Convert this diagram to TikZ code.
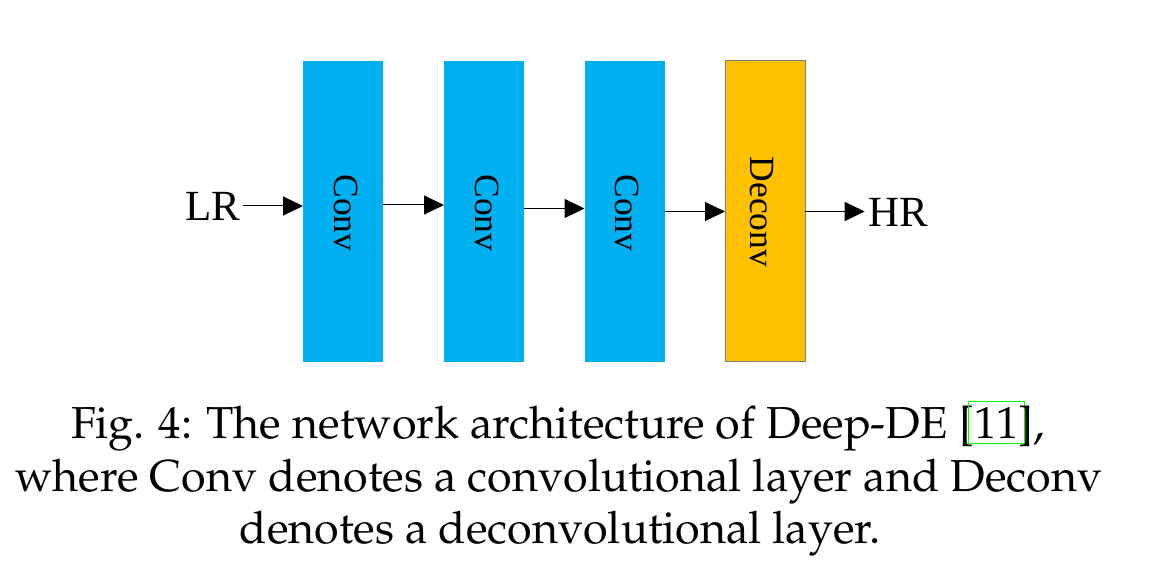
\documentclass[tikz,border=0pt]{standalone}
\usepackage[T1,TU]{fontenc}
\usepackage{fontspec}
\setmainfont{Liberation Serif}
\usetikzlibrary{arrows.meta}
\definecolor{convblue}{HTML}{00B0F0}
\definecolor{deconvorange}{HTML}{FFC000}
\definecolor{linkgreen}{HTML}{00FF00}
\definecolor{boxedge}{HTML}{7F7F7F}
\newcommand\reflinkbox[1]{\mbox{\makebox[0pt][l]{\hspace{-3pt}\textcolor{linkgreen}{\setlength\fboxrule{0.5pt}\setlength\fboxsep{2.5pt}\fbox{\phantom{#1}}}}#1}}
\begin{document}
\begin{tikzpicture}[x=0.5pt,y=-0.5pt,
  layer/.style={minimum width=40pt,minimum height=150.5pt,inner sep=0pt,outer sep=0pt},
  convbox/.style={layer,fill=convblue},
  deconvbox/.style={layer,fill=deconvorange,draw=boxedge,line width=0.5pt},
  lbl/.style={rotate=-90,font=\fontsize{17.7}{20}\selectfont,inner sep=0pt},
  io/.style={font=\fontsize{21.5}{24}\selectfont,inner sep=1.5pt},
  arr/.style={-{Triangle[length=10pt,width=9.5pt]},line width=0.5pt},
  captext/.style={anchor=base,inner sep=0pt,font=\usefont{T1}{ppl}{m}{n}\fontsize{22.4}{26.5}\selectfont}]
\useasboundingbox (0,0) rectangle (1150,582);
% layers
\node[convbox] (c1) at (343,211.5) {};
\node[convbox] (c2) at (484,211.5) {};
\node[convbox] (c3) at (624.5,211.5) {};
\node[deconvbox] (d1) at (765,211.5) {};
\node[lbl] (l1) at (346,213) {Conv};
\node[lbl] (l2) at (487,213) {Conv};
\node[lbl] (l3) at (627.5,213) {Conv};
\node[lbl] (l4) at (762,212) {Deconv};
% input / output
\node[io] (lr) at (212.5,206) {LR};
\node[io] (hr) at (898,212) {HR};
% connectors
\draw[arr] (lr.east) -- (lr.east -| c1.west);
\draw[arr] ([yshift=3.25pt]c1.east) -- ([yshift=3.25pt]c2.west);
\draw[arr] ([yshift=1.5pt]c2.east) -- ([yshift=1.5pt]c3.west);
\draw[arr] (c3.east) -- (d1.west);
\draw[arr] (d1.east) -- (d1.east -| hr.west);
% caption
\node[captext] (cap1) at (558,438) {Fig. 4: The network architecture of Deep-DE [\reflinkbox{11}],};
\node[captext] (cap2) at (559,491) {where Conv denotes a convolutional layer and Deconv};
\node[captext] (cap3) at (560,543) {denotes a deconvolutional layer.};
\end{tikzpicture}
\end{document}
